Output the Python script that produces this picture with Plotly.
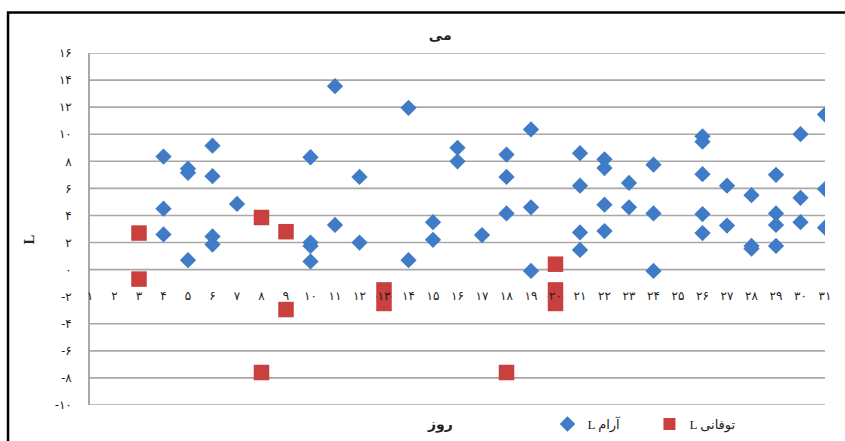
import plotly.graph_objects as go

# Daily L values for May (calm and stormy days)
calm_day = [4, 4, 4, 5, 5, 5, 6, 6, 6, 6, 7, 10, 10, 10, 10, 11, 11, 12, 12,
            14, 14, 15, 15, 16, 16, 17, 18, 18, 18, 19, 19, 19,
            21, 21, 21, 21, 22, 22, 22, 22, 23, 23, 24, 24, 24,
            26, 26, 26, 26, 26, 27, 27, 28, 28, 28, 29, 29, 29, 29,
            30, 30, 30, 31, 31, 31]
calm_L = [8.35, 4.5, 2.6, 7.45, 7.15, 0.7, 9.15, 6.9, 2.45, 1.85, 4.85,
          8.3, 2.0, 1.75, 0.6, 13.55, 3.3, 6.85, 2.0,
          11.95, 0.7, 3.5, 2.2, 9.0, 8.0, 2.55, 8.5, 6.85, 4.15, 10.35, 4.6, -0.1,
          8.6, 6.2, 2.75, 1.45, 8.15, 7.5, 4.8, 2.85, 6.4, 4.6, 7.75, 4.15, -0.1,
          9.85, 9.45, 7.05, 4.1, 2.7, 6.2, 3.25, 5.5, 1.75, 1.55, 7.0, 4.15, 3.3, 1.75,
          10.0, 5.3, 3.5, 11.45, 5.95, 3.1]

storm_day = [3, 3, 8, 8, 9, 9, 13, 13, 18, 20, 20, 20]
storm_L = [2.7, -0.7, 3.85, -7.6, 2.8, -2.95, -1.5, -2.5, -7.6, 0.4, -1.5, -2.5]

days = list(range(1, 32))
y_ticks = list(range(-10, 17, 2))

FA_DIGITS = "۰۱۲۳۴۵۶۷۸۹"


def fa(n):
    s = "".join(FA_DIGITS[int(c)] for c in str(abs(n)))
    return ("-" + s) if n < 0 else s


day_labels = [fa(d) for d in days]
y_labels = [fa(v) for v in y_ticks]

FONT = "Times New Roman, Liberation Serif, DejaVu Serif, DejaVu Sans, serif"
GRID = "#a8a8a8"

fig = go.Figure()
fig.add_trace(go.Scatter(
    x=calm_day, y=calm_L, mode="markers", name="L آرام",
    marker=dict(symbol="diamond", size=12.5, color="#3f7bc6"),
))
fig.add_trace(go.Scatter(
    x=storm_day, y=storm_L, mode="markers", name="L توفانی",
    marker=dict(symbol="square", size=15.5, color="#c9403e"),
))

# horizontal gridlines (the -2 line carries the day labels instead)
shapes = []
for v in y_ticks:
    if v == -2:
        continue
    shapes.append(dict(type="line", xref="paper", yref="y", x0=0, x1=1,
                       y0=v, y1=v, line=dict(color=GRID, width=1.6), layer="below"))
# outer frame of the chart
shapes.append(dict(type="rect", xref="paper", yref="paper",
                   x0=-0.1115, x1=1.4, y0=-0.5, y1=1.115,
                   line=dict(color="black", width=2.5)))

fig.update_layout(
    width=845, height=441,
    margin=dict(l=90, r=20, t=53, b=36, autoexpand=False),
    paper_bgcolor="white", plot_bgcolor="white",
    font=dict(family=FONT, color="#222", size=12),
    title=dict(text="<b>می</b>", x=0.521, xanchor="center",
               y=1 - 35 / 441, yanchor="middle", yref="container",
               font=dict(size=14, color="#222", family=FONT)),
    xaxis=dict(range=[1, 31], tickvals=days, ticktext=day_labels,
               showgrid=False, zeroline=False, showline=False, ticks="",
               anchor="free", position=0.334, automargin=False,
               tickfont=dict(size=12, color="#222", family=FONT)),
    yaxis=dict(range=[-10, 16], tickvals=y_ticks, ticktext=y_labels,
               showgrid=False, zeroline=False, showline=True, automargin=False,
               linecolor=GRID, linewidth=1.6, ticks="", ticklabelstandoff=14,
               tickfont=dict(size=12, color="#222", family=FONT)),
    showlegend=True,
    legend=dict(orientation="h", x=0.6224, xanchor="left", y=-0.054,
                yanchor="middle", font=dict(size=13, family=FONT, color="#222"),
                itemsizing="constant", bgcolor="rgba(0,0,0,0)",
                entrywidth=57, entrywidthmode="pixels"),
    shapes=shapes,
    annotations=[
        dict(text="<b>روز</b>", xref="paper", yref="paper", x=0.476, y=-0.057,
             showarrow=False, font=dict(size=14, family=FONT, color="#222"),
             xanchor="center", yanchor="middle"),
        dict(text="<b>L</b>", xref="paper", yref="paper", x=-0.083, y=0.47,
             showarrow=False, textangle=-90,
             font=dict(size=15, family=FONT, color="#222"),
             xanchor="center", yanchor="middle"),
    ],
)

fig.write_html("out.html")
